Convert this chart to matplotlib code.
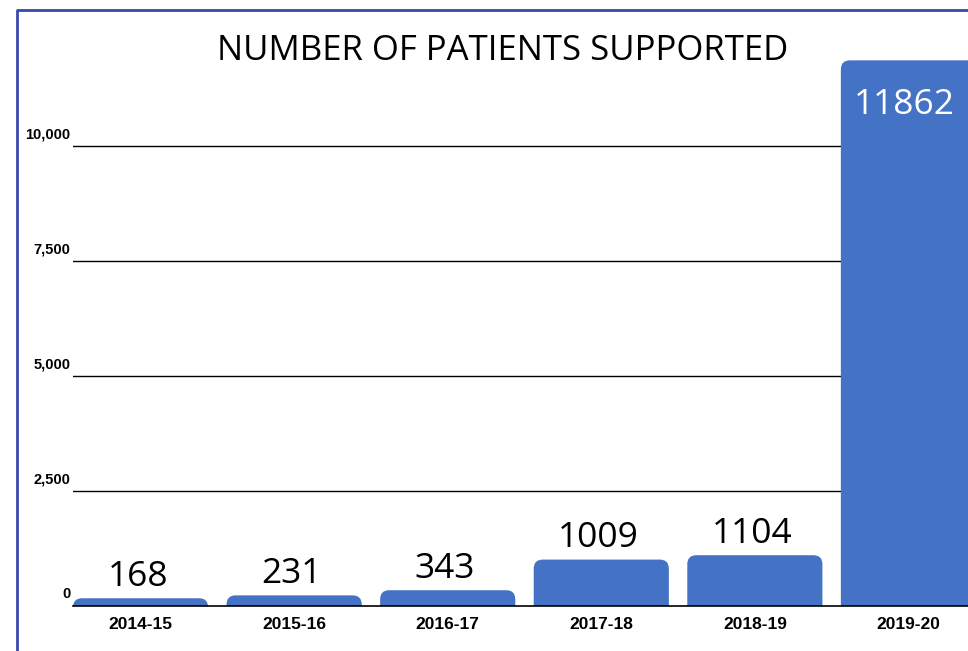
import matplotlib.pyplot as plt
import matplotlib.transforms as mtransforms
from matplotlib.patches import FancyBboxPatch
from matplotlib.lines import Line2D

years = ["2014-15", "2015-16", "2016-17", "2017-18", "2018-19", "2019-20"]
patients = [168, 231, 343, 1009, 1104, 11862]
yticks = [0, 2500, 5000, 7500, 10000]
ytick_labels = ["0", "2,500", "5,000", "7,500", "10,000"]

BAR_COLOR = "#4472C4"
W, H = 968, 651

fig = plt.figure(figsize=(W / 100, H / 100), dpi=100)

# axes placed in pixel terms; right edge runs past the figure like the original
left, right, top, bottom = 73, 976, 54, 606
ax = fig.add_axes([left / W, 1 - bottom / H, (right - left) / W, (bottom - top) / H])
xmin, xmax = -0.44, len(years) - 1 + 0.44
ymin, ymax = 0, 12000
ax.set_xlim(xmin, xmax)
ax.set_ylim(ymin, ymax)

px_x = (right - left) / (xmax - xmin)
px_y = (bottom - top) / (ymax - ymin)

# rounded-top bars: round box pushed below zero and clipped by the axes
bar_w = 0.88
r_px = 9
rx = r_px / px_x
ry = r_px / px_y
for i, v in enumerate(patients):
    p = FancyBboxPatch((i - bar_w / 2, -3 * ry), bar_w, v + 3 * ry,
                       boxstyle=f"round,pad=0,rounding_size={rx}",
                       mutation_aspect=ry / rx,
                       facecolor=BAR_COLOR, edgecolor="none", zorder=2)
    ax.add_patch(p)
    p.set_clip_path(ax.patch)

# value labels
for i, v in enumerate(patients):
    if v > 10000:
        ax.annotate(str(v), (i, v), xytext=(-3, -20), textcoords="offset points",
                    ha="center", va="top", color="white", fontsize=25.5,
                    family="Open Sans", zorder=3)
    else:
        ax.annotate(str(v), (i, v), xytext=(-2, 3), textcoords="offset points",
                    ha="center", va="bottom", color="black", fontsize=25.5,
                    family="Open Sans", zorder=3)

for y in yticks[1:]:
    ax.axhline(y, color="black", lw=1, zorder=1)

for s in ["top", "right", "left"]:
    ax.spines[s].set_visible(False)
ax.spines["bottom"].set_linewidth(1.2)
ax.spines["bottom"].set_zorder(4)

ax.set_xticks(range(len(years)))
ax.set_xticklabels(years, fontsize=12.5, fontweight="bold", family="Liberation Sans")
ax.set_yticks(yticks)
ax.set_yticklabels(ytick_labels, fontsize=10.5, fontweight="bold", family="Liberation Sans")
ax.tick_params(axis="x", length=0, pad=8)
ax.tick_params(axis="y", length=0, pad=2)

shift = mtransforms.ScaledTranslation(0, 0.13, fig.dpi_scale_trans)
for lab in ax.get_yticklabels():
    lab.set_transform(lab.get_transform() + shift)

fig.text(503 / W, 1 - 51 / H, "NUMBER OF PATIENTS SUPPORTED", ha="center", va="center",
         fontsize=25, family="Open Sans")

# blue frame on the left and top
fx = 17 / W
fy = 1 - 10 / H
fig.add_artist(Line2D([fx, fx, 1.0], [0, fy, fy], transform=fig.transFigure,
                      color="#3949AB", lw=2))

fig.savefig("out.png", dpi=100)
